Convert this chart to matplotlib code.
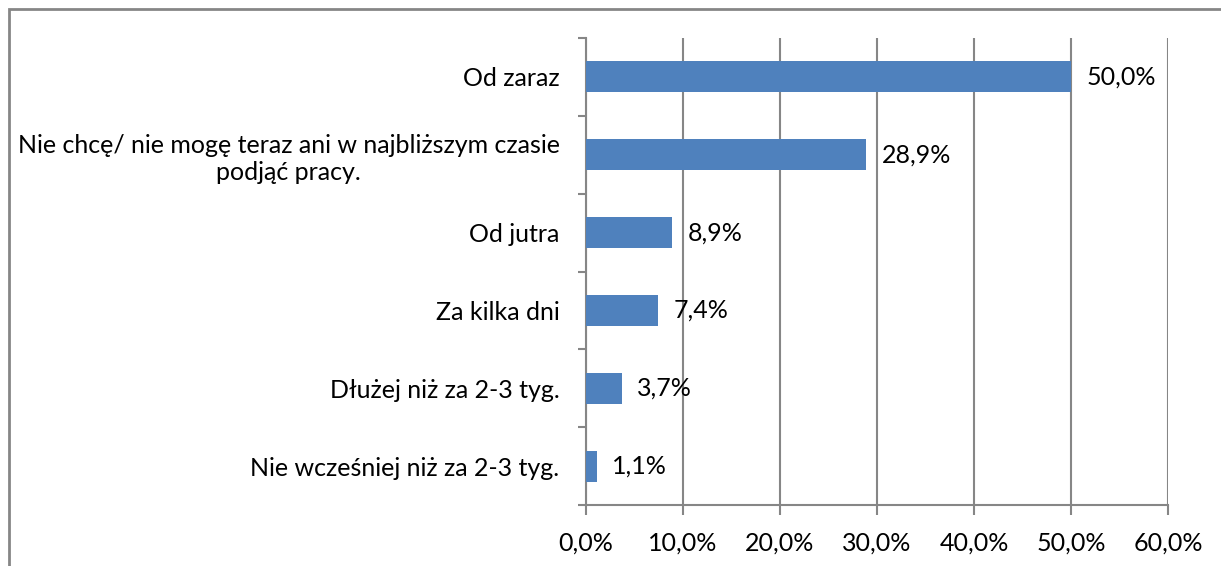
import matplotlib
matplotlib.use("Agg")
import matplotlib.pyplot as plt
from matplotlib.patches import Rectangle
from matplotlib.ticker import FuncFormatter, MultipleLocator

categories = [
    "Od zaraz",
    "Nie chcę/ nie mogę teraz ani w najbliższym czasie\npodjąć pracy.",
    "Od jutra",
    "Za kilka dni",
    "Dłużej niż za 2-3 tyg.",
    "Nie wcześniej niż za 2-3 tyg.",
]
values = [50.0, 28.9, 8.9, 7.4, 3.7, 1.1]

plt.rcParams['font.family'] = ['Lato', 'DejaVu Sans']

fig = plt.figure(figsize=(12.21, 5.66), dpi=100)
ax = fig.add_axes([586 / 1221, 1 - 505 / 566, (1168 - 586) / 1221, (505 - 38) / 566])

grid_c = "#868686"
bar_c = "#4F81BD"
fs = 18
n = len(categories)
ypos = list(range(n))
ax.barh(ypos, values, height=0.4, color=bar_c, zorder=3)
ax.set_ylim(n - 0.5, -0.5)
ax.set_xlim(0, 60)
ax.xaxis.set_major_locator(MultipleLocator(10))
ax.xaxis.set_major_formatter(FuncFormatter(lambda v, p: f"{v:.1f}%".replace(".", ",")))
ax.set_yticks(ypos)
ax.set_yticklabels(categories, fontsize=fs, ha="right", multialignment="center")
ax.set_yticks([i - 0.5 for i in range(n + 1)], minor=True)
ax.tick_params(axis="y", which="major", length=0, pad=19)
ax.tick_params(axis="y", which="minor", length=6, width=1.5, color=grid_c, direction="out")
ax.tick_params(axis="x", length=7, width=1.5, color=grid_c, labelsize=fs, pad=12)

ax.grid(axis="x", color=grid_c, linewidth=1.5, zorder=0)
for s in ["top", "right"]:
    ax.spines[s].set_visible(False)
for s in ["left", "bottom"]:
    ax.spines[s].set_color(grid_c)
    ax.spines[s].set_linewidth(1.5)

for y, v in zip(ypos, values):
    ax.text(v + 1.6, y, f"{v:.1f}%".replace(".", ","), va="center", ha="left", fontsize=fs, zorder=4)

# chart border (top and left visible, cropped at right/bottom)
fig.patches.append(Rectangle((8.5 / 1221, -0.1), 1.2, 1 - 8.5 / 566 + 0.1,
                             transform=fig.transFigure, fill=False,
                             edgecolor=grid_c, linewidth=2))

fig.savefig("out.png", dpi=100)
